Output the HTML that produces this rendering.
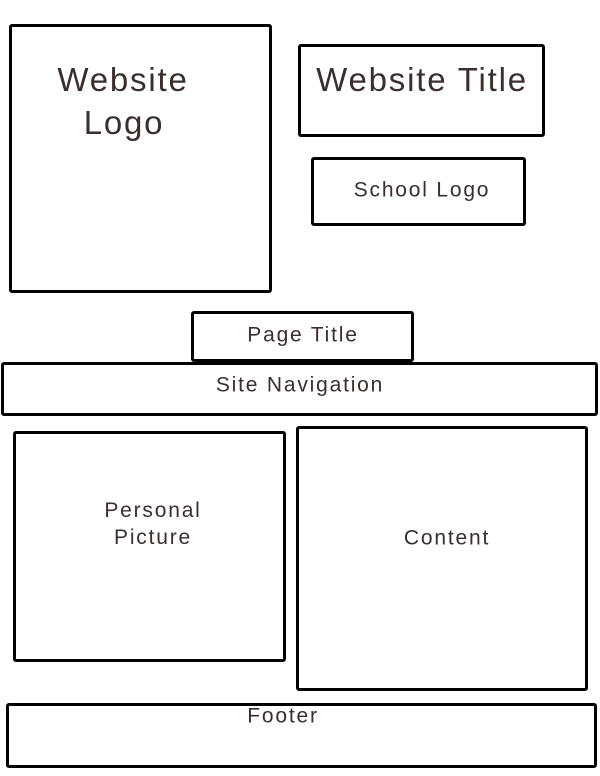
<!DOCTYPE html>
<html><head><style>
body{margin:0;width:600px;height:776px;background:#fff;position:relative;overflow:hidden;font-family:"Liberation Sans",sans-serif;color:#3a2e2e}
.b{position:absolute;box-sizing:border-box;border:3px solid #000;border-radius:3px;background:#fff}
.t{position:absolute;transform:translate(-50%,-50%);white-space:nowrap;text-align:center;line-height:1.2;letter-spacing:1.8px}
</style></head><body>
<div class="b" style="left:9px;top:24px;width:263px;height:269px"></div>
<div class="b" style="left:298px;top:44px;width:247px;height:93px"></div>
<div class="b" style="left:311px;top:157px;width:215px;height:69px"></div>
<div class="b" style="left:191px;top:311px;width:223px;height:51px"></div>
<div class="b" style="left:1px;top:362px;width:597px;height:54px"></div>
<div class="b" style="left:13px;top:431px;width:273px;height:231px"></div>
<div class="b" style="left:296px;top:426px;width:292px;height:265px"></div>
<div class="b" style="left:6px;top:703px;width:591px;height:65px"></div>
<div class="t" style="left:123px;top:80px;font-size:33px">Website</div>
<div class="t" style="left:124px;top:123px;font-size:33px">Logo</div>
<div class="t" style="left:422px;top:80px;font-size:33px">Website Title</div>
<div class="t" style="left:422px;top:190px;font-size:21px">School Logo</div>
<div class="t" style="left:303px;top:335px;font-size:21px">Page Title</div>
<div class="t" style="left:300px;top:385px;font-size:21px">Site Navigation</div>
<div class="t" style="left:153px;top:524px;font-size:21px;line-height:27px">Personal<br>Picture</div>
<div class="t" style="left:447px;top:538px;font-size:21px">Content</div>
<div class="t" style="left:283px;top:716px;font-size:21px">Footer</div>
</body></html>
